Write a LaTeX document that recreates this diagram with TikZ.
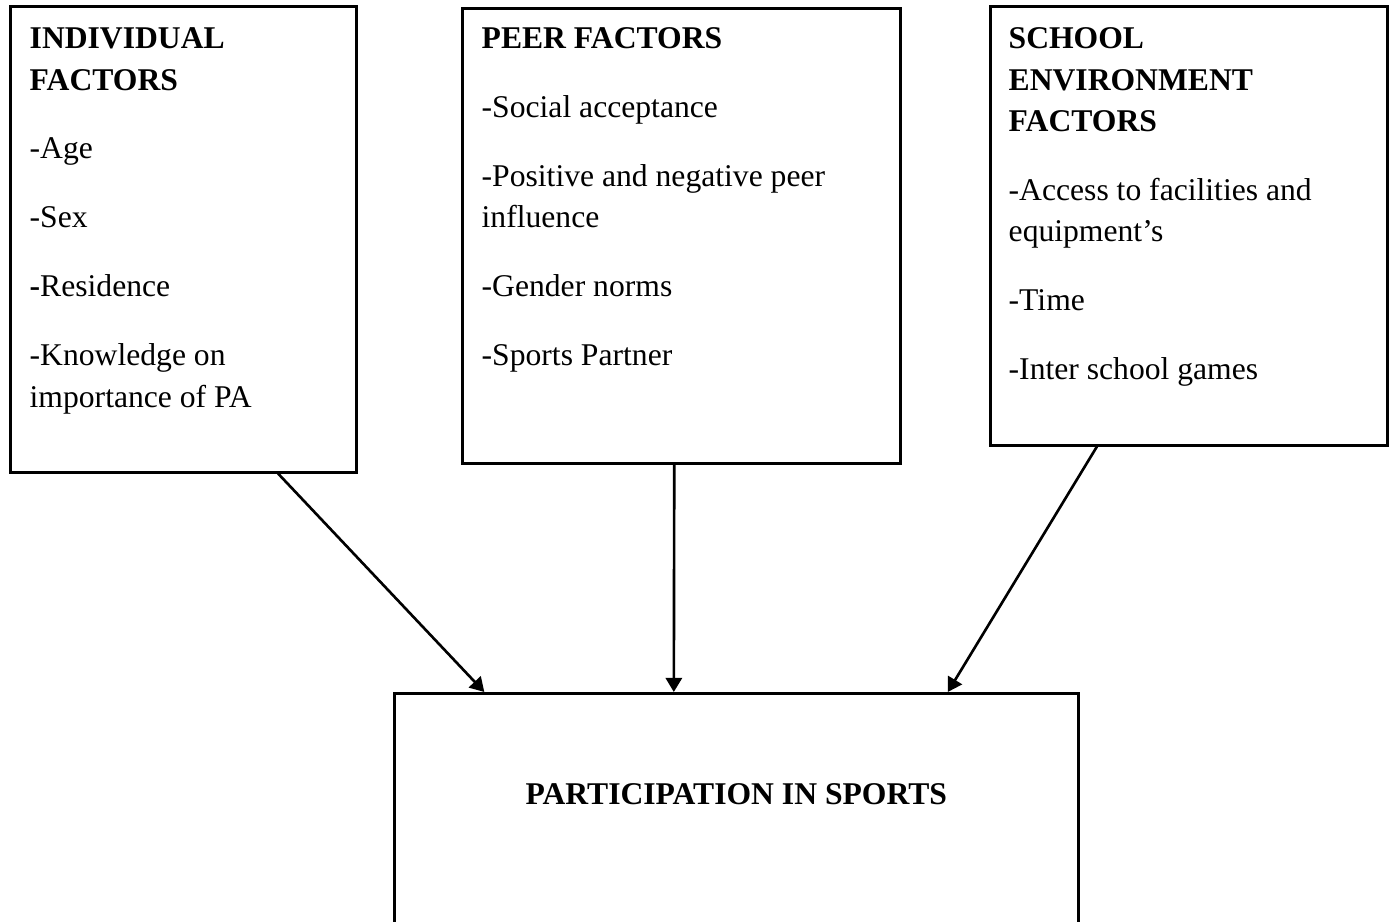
\documentclass[tikz,border=0pt]{standalone}
\usepackage{fontspec}
\setmainfont{Liberation Serif}
\usetikzlibrary{arrows.meta,calc,positioning}

\begin{document}
\begin{tikzpicture}[
  factorbox/.style={draw,line width=0.75pt,inner sep=0pt,anchor=north west},
  boxtext/.style={inner sep=0pt,anchor=north west,align=left,font=\fontsize{9}{11.8}\selectfont},
  arrowline/.style={line width=0.75pt,-{Triangle[length=4pt,width=4.6pt]}}]
\useasboundingbox (0,0) rectangle (13.96,-9.22);

% Draw the boxes, the outcome box runs off the bottom.
\node[factorbox,minimum width=3.46cm,minimum height=4.66cm] (indiv) at (0.09,-0.05) {};
\node[factorbox,minimum width=4.38cm,minimum height=4.55cm] (peer) at (4.61,-0.07) {};
\node[factorbox,minimum width=3.97cm,minimum height=4.39cm] (school) at (9.89,-0.05) {};
\node[factorbox,minimum width=6.84cm,minimum height=3.2cm] (part) at (3.93,-6.92) {};

% Texts in the boxes.
\node[boxtext] (indivtext) at ($(indiv.north west)+(0.2,-0.22)$)
  {\textbf{INDIVIDUAL}\\\textbf{FACTORS}\\[7.8pt]
   -Age\\[7.8pt]
   -Sex\\[7.8pt]
   \textbf{-}Residence\\[7.8pt]
   -Knowledge on\\importance of PA};
\node[boxtext] (peertext) at ($(peer.north west)+(0.2,-0.20)$)
  {\textbf{PEER FACTORS}\\[7.8pt]
   -Social acceptance\\[7.8pt]
   -Positive and negative peer\\influence\\[7.8pt]
   -Gender norms\\[7.8pt]
   -Sports Partner};
\node[boxtext] (schooltext) at ($(school.north west)+(0.19,-0.22)$)
  {\textbf{SCHOOL}\\\textbf{ENVIRONMENT}\\\textbf{FACTORS}\\[7.8pt]
   -Access to facilities and\\equipment’s\\[7.8pt]
   -Time\\[7.8pt]
   -Inter school games};
\node[boxtext,anchor=base] (parttext) at ($(part.north)+(0,-1.13)$)
  {\textbf{PARTICIPATION IN SPORTS}};

% Arrows into the outcome box.
\draw[arrowline] ($(indiv.south west)!0.772!(indiv.south east)$) -- ($(part.north west)!0.133!(part.north east)$);
\draw[arrowline] ($(peer.south west)!0.484!(peer.south east)$) -- ($(part.north west)!0.409!(part.north east)$);
\draw[arrowline] ($(school.south west)!0.27!(school.south east)$) -- ($(part.north west)!0.808!(part.north east)$);
\end{tikzpicture}
\end{document}
